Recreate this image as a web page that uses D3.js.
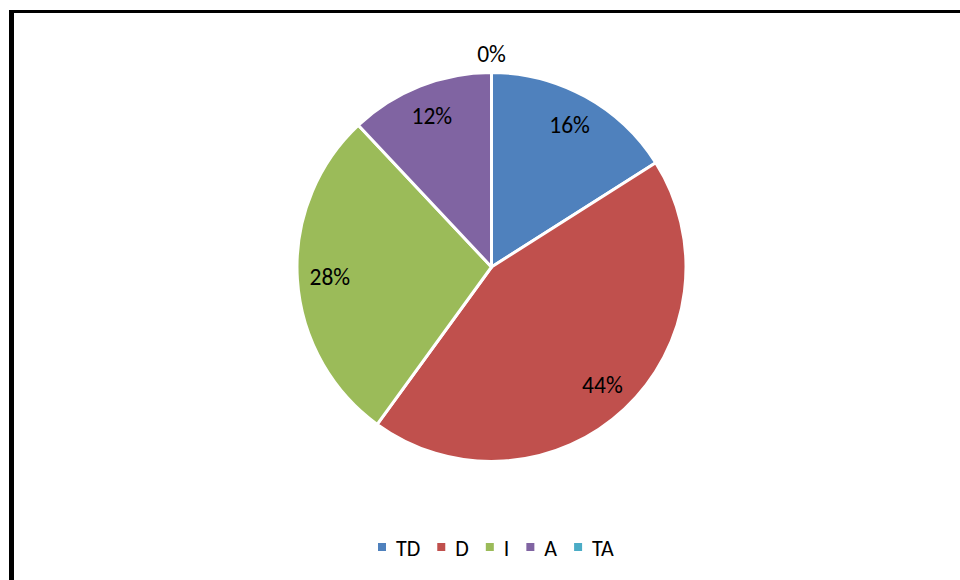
<!DOCTYPE html>
<html><head><meta charset="utf-8">
<script src="https://cdn.jsdelivr.net/npm/d3@7"></script>
<style>body{margin:0;background:#fff}svg{display:block}</style>
</head><body>
<svg id="chart" width="960" height="580"></svg>
<script>
const categories = ["TD", "D", "I", "A", "TA"];
const values = [16, 44, 28, 12, 0];
const colors = ["#4F81BD", "#C0504D", "#9BBB59", "#8064A2", "#4BACC6"];

const svg = d3.select("#chart");
const font = "Carlito, Calibri, 'Open Sans', sans-serif";

// frame
svg.append("line").attr("x1", 9).attr("x2", 960).attr("y1", 11.5).attr("y2", 11.5)
  .attr("stroke", "#000").attr("stroke-width", 3);
svg.append("line").attr("x1", 11.5).attr("x2", 11.5).attr("y1", 10).attr("y2", 580)
  .attr("stroke", "#000").attr("stroke-width", 5);

const cx = 491.5, cy = 267, R = 194.5;
const data = categories.map((c, i) => ({cat: c, value: values[i], color: colors[i]}));
const pie = d3.pie().value(d => d.value).sort(null);
const arcs = pie(data);
const arc = d3.arc().innerRadius(0).outerRadius(R);
const labelArc = d3.arc().innerRadius(162).outerRadius(162);
const outerLabelArc = d3.arc().innerRadius(213).outerRadius(213);

const g = svg.append("g").attr("transform", `translate(${cx},${cy})`);
g.selectAll("path").data(arcs).enter().append("path")
  .attr("d", arc).attr("fill", d => d.data.color)
  .attr("stroke", "#fff").attr("stroke-width", 3).attr("stroke-linejoin", "round");

const total = d3.sum(values);
g.selectAll("text.lbl").data(arcs).enter().append("text").attr("class", "lbl")
  .attr("transform", d => {
    const p = d.data.value === 0 ? outerLabelArc.centroid(d) : labelArc.centroid(d);
    return `translate(${p[0]},${p[1]})`;
  })
  .attr("text-anchor", "middle").attr("dominant-baseline", "central")
  .attr("font-family", font).attr("font-size", 23.5).attr("fill", "#000")
  .text(d => Math.round(d.data.value / total * 100) + "%");

// legend
const leg = svg.append("g").attr("transform", "translate(378,548)");
let x = 0;
data.forEach(d => {
  const it = leg.append("g").attr("transform", `translate(${x},0)`);
  it.append("rect").attr("x", 0).attr("y", -5).attr("width", 8).attr("height", 8).attr("fill", d.color);
  const t = it.append("text").attr("x", 18).attr("y", 0).attr("dominant-baseline", "central")
    .attr("font-family", font).attr("font-size", 22).attr("fill", "#000").text(d.cat);
  x += 18 + t.node().getComputedTextLength() + 17;
});
</script>
</body></html>
